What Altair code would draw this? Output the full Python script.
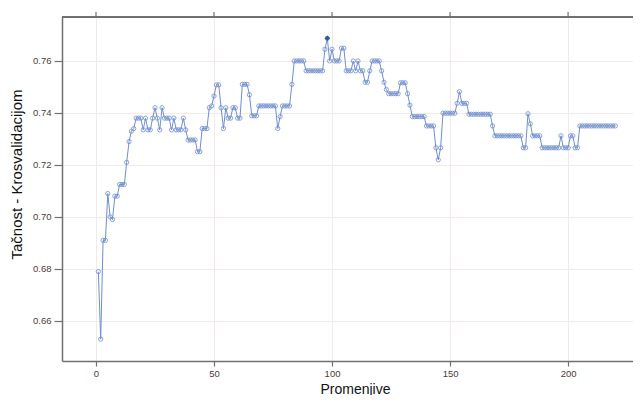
import altair as alt
import pandas as pd

# number of variables (x) and cross-validated accuracy (y)
n_vars = list(range(1, 221))
accuracy = [
    0.679, 0.653, 0.691, 0.691, 0.709, 0.700, 0.699, 0.708, 0.708, 0.7125,
    0.7125, 0.7125, 0.721, 0.729, 0.733, 0.734, 0.738, 0.738, 0.738, 0.7335,
    0.738, 0.7335, 0.7335, 0.738, 0.742, 0.738, 0.7335, 0.742, 0.738, 0.738,
    0.738, 0.7335, 0.738, 0.7335, 0.7335, 0.7335, 0.738, 0.7335, 0.7296, 0.7296,
    0.7296, 0.7296, 0.7251, 0.7251, 0.734, 0.734, 0.734, 0.742, 0.7427, 0.7465,
    0.7508, 0.7508, 0.742, 0.734, 0.742, 0.738, 0.738, 0.742, 0.742, 0.738,
    0.738, 0.751, 0.751, 0.751, 0.747, 0.7389, 0.7389, 0.7389, 0.7427, 0.7427,
    0.7427, 0.7427, 0.7427, 0.7427, 0.7427, 0.7427, 0.734, 0.7386, 0.7427, 0.7427,
    0.7427, 0.7427, 0.751, 0.760, 0.760, 0.760, 0.760, 0.760, 0.7562, 0.7562,
    0.7562, 0.7562, 0.7562, 0.7562, 0.7562, 0.7562, 0.7645, 0.7687, 0.760, 0.7645,
    0.760, 0.760, 0.760, 0.7649, 0.7649, 0.7562, 0.7562, 0.7562, 0.760, 0.7562,
    0.760, 0.7562, 0.7562, 0.7518, 0.7518, 0.7562, 0.760, 0.760, 0.760, 0.760,
    0.7562, 0.7518, 0.749, 0.7474, 0.7474, 0.7474, 0.7474, 0.7474, 0.7516, 0.7516,
    0.7516, 0.7474, 0.743, 0.7386, 0.7386, 0.7386, 0.7386, 0.7386, 0.7386, 0.735,
    0.735, 0.735, 0.735, 0.7266, 0.722, 0.7266, 0.7399, 0.7399, 0.7399, 0.7399,
    0.7399, 0.7399, 0.7437, 0.7482, 0.7437, 0.7437, 0.7437, 0.7395, 0.7395, 0.7395,
    0.7395, 0.7395, 0.7395, 0.7395, 0.7395, 0.7395, 0.7395, 0.735, 0.7312, 0.7312,
    0.7312, 0.7312, 0.7312, 0.7312, 0.7312, 0.7312, 0.7312, 0.7312, 0.7312, 0.7312,
    0.7266, 0.7266, 0.7397, 0.7358, 0.7312, 0.7312, 0.7312, 0.7312, 0.7266, 0.7266,
    0.7266, 0.7266, 0.7266, 0.7266, 0.7266, 0.7266, 0.7312, 0.7266, 0.7266, 0.7266,
    0.7312, 0.7312, 0.7266, 0.7266, 0.735, 0.735, 0.735, 0.735, 0.735, 0.735,
    0.735, 0.735, 0.735, 0.735, 0.735, 0.735, 0.735, 0.735, 0.735, 0.735,
]
best_x = [98]
best_y = [0.7687]

x_ticks = [0, 50, 100, 150, 200]
y_ticks = [0.66, 0.68, 0.70, 0.72, 0.74, 0.76]

df = pd.DataFrame({"x": n_vars, "acc": accuracy})
best_df = pd.DataFrame({"x": best_x, "acc": best_y})
ticks_df = pd.DataFrame({"x": x_ticks})

FRAME = "#707070"
LINE = "#6f8fcf"
LABEL = "#4a3b3b"
GRID = "#f1eaea"

W, H = 571, 344

x_scale = alt.Scale(domain=[-14.4, 227.5], nice=False, zero=False)
y_scale = alt.Scale(domain=[0.6446, 0.7769], nice=False, zero=False)

x_axis = alt.Axis(
    values=x_ticks, title="Promenjive", grid=True, gridColor=GRID,
    domainColor=FRAME, domainWidth=1.5, tickColor=FRAME, tickWidth=1.2,
    tickSize=5, labelPadding=2, labelFontSize=9.5, labelColor=LABEL,
    labelFont="Liberation Sans", titleFont="Liberation Sans", titleFontSize=14,
    titleFontWeight="normal", titleColor="#111111", titleX=293, titleY=32,
    titleAlign="center", titleBaseline="alphabetic",
)
y_axis = alt.Axis(
    values=y_ticks, format=".2f", title="Tačnost - Krosvalidacijom", grid=True,
    gridColor=GRID, domainColor=FRAME, domainWidth=1.5, tickColor=FRAME,
    tickWidth=1.2, tickSize=8, labelPadding=3, labelFontSize=9.5,
    labelColor=LABEL, labelFont="Liberation Sans", titleFont="Liberation Sans",
    titleFontSize=15, titleFontWeight="normal", titleColor="#111111",
    titleAngle=270, titleX=-41, titleY=157, titleAlign="center",
    titleBaseline="alphabetic",
)

base_x = alt.X("x:Q", scale=x_scale, axis=x_axis)
base_y = alt.Y("acc:Q", scale=y_scale, axis=y_axis)

line = alt.Chart(df).mark_line(color=LINE, strokeWidth=1).encode(x=base_x, y=base_y)
pts = alt.Chart(df).mark_point(
    shape="circle", filled=False, color=LINE, size=18, strokeWidth=0.9, opacity=0.9
).encode(x=base_x, y=base_y)
best = alt.Chart(best_df).mark_point(
    shape="diamond", filled=True, color="#35559c", size=30, opacity=1
).encode(x=base_x, y=base_y)

# top frame line and top ticks
top_border = alt.Chart(ticks_df).mark_rule(color=FRAME, strokeWidth=1.5).encode(
    x=alt.value(0), x2=alt.value(W), y=alt.value(0)
)
top_ticks = alt.Chart(ticks_df).mark_rule(color=FRAME, strokeWidth=1.2).encode(
    x=base_x, y=alt.value(0), y2=alt.value(-5)
)

chart = (
    alt.layer(line, pts, best, top_border, top_ticks)
    .properties(
        width=W, height=H,
        autosize=alt.AutoSizeParams(type="none"),
        padding={"left": 54, "top": 9, "right": 0, "bottom": 34},
        background="white",
    )
    .configure_view(stroke="transparent")
)

chart.save("out.html", embed_options={"renderer": "svg", "actions": False})
